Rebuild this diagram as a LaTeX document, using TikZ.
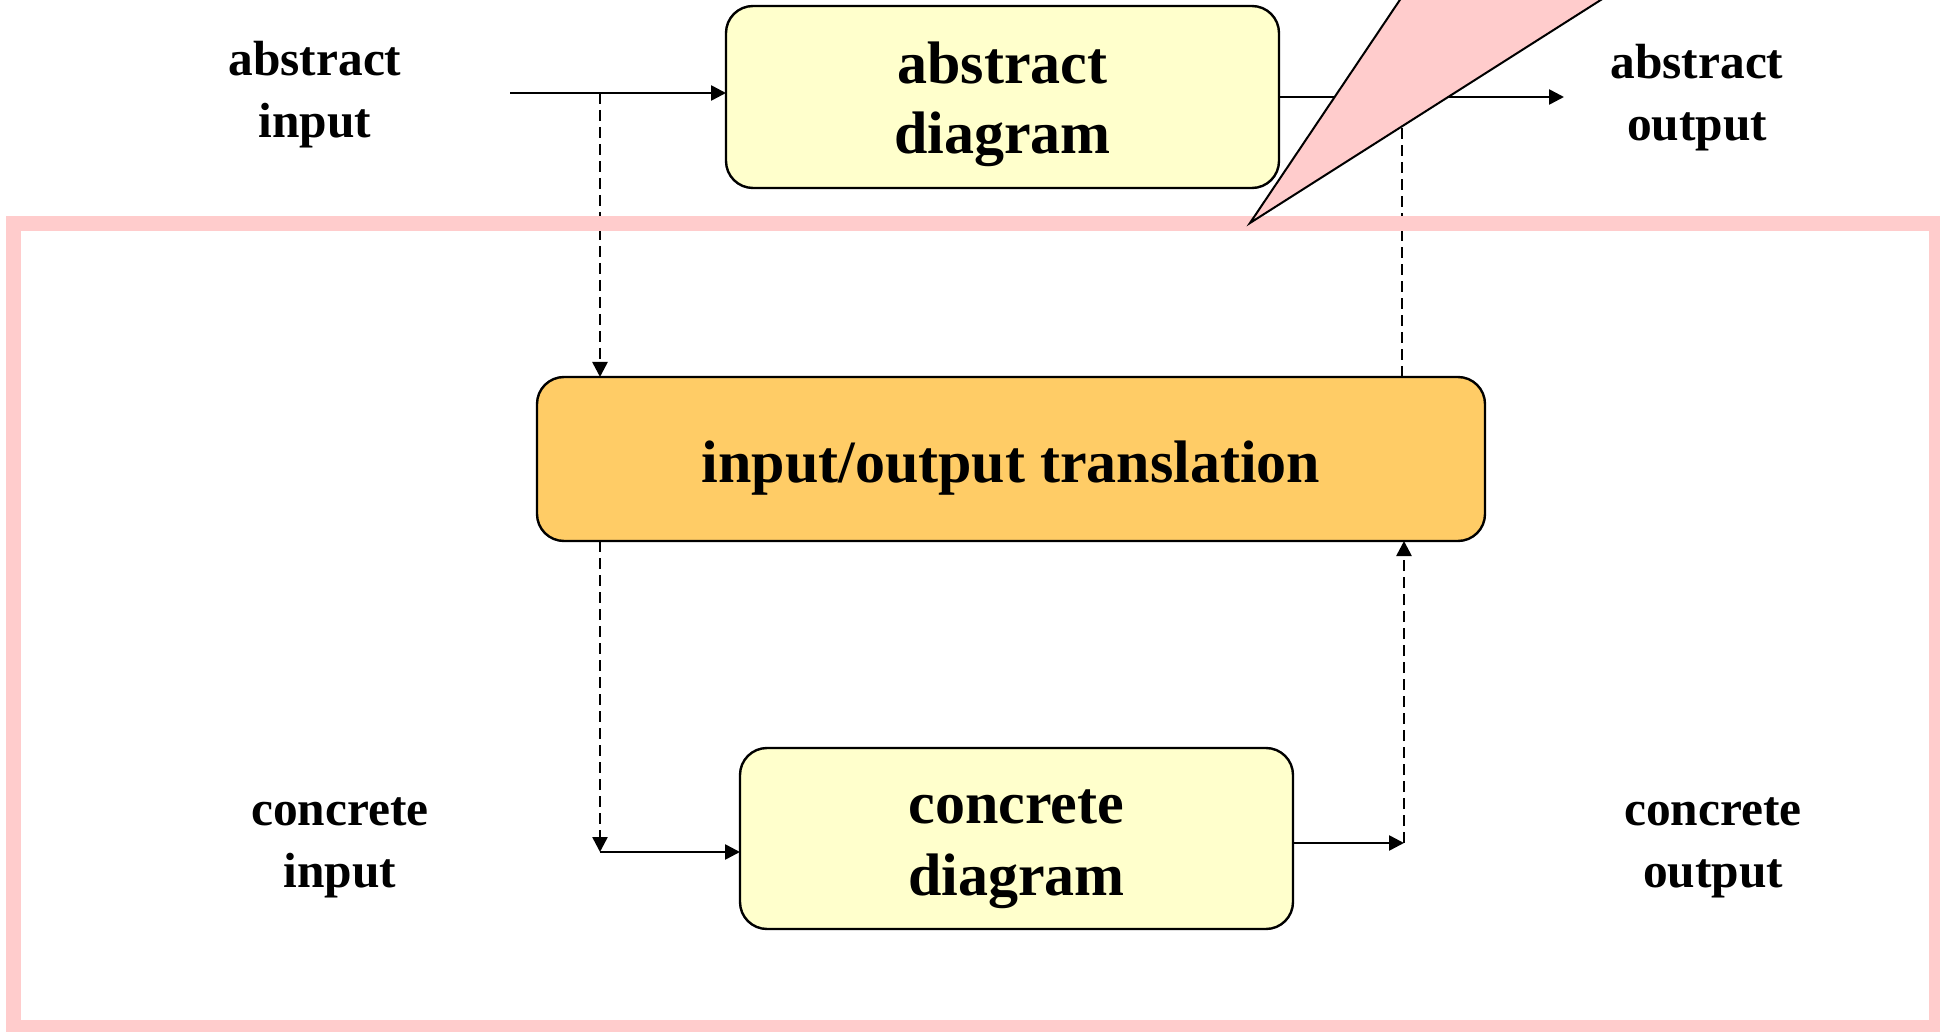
\documentclass[tikz,border=0pt]{standalone}
\usepackage{fontspec}
\setmainfont{Liberation Serif}
\usetikzlibrary{arrows.meta}
\definecolor{framepink}{HTML}{FFCCCC}
\definecolor{boxyellow}{HTML}{FFFFCC}
\definecolor{boxorange}{HTML}{FFCC66}
\tikzset{
  block/.style={draw=black, line width=1.2pt, rounded corners=13.5pt,
    inner sep=0pt, outer sep=0pt},
  blocktext/.style={align=center, inner sep=0pt,
    font=\bfseries\fontsize{30}{35}\selectfont},
  sidelabel/.style={align=center, inner sep=0pt,
    font=\bfseries\fontsize{24.7}{31}\selectfont},
  flow/.style={line width=1.3pt, -{Triangle[length=7.5pt,width=7.5pt]}},
  tap/.style={line width=1.3pt, dash pattern=on 5.5pt off 3pt},
  tapflow/.style={tap, -{Triangle[length=7.5pt,width=7.5pt]}}
}
\begin{document}
\begin{tikzpicture}[x=0.5pt, y=-0.5pt]
  \useasboundingbox (0,0) rectangle (1940,1032);
  \begin{scope}
    \clip (0,0) rectangle (1940,1032);

    % boxes
    \node[block, fill=boxyellow, minimum width=276.5pt, minimum height=91pt]
      (abs) at (1002.5,97) {};
    \node[block, fill=boxorange, minimum width=474pt, minimum height=82pt]
      (io) at (1011,459) {};
    \node[block, fill=boxyellow, minimum width=276.5pt, minimum height=90.5pt]
      (con) at (1016.5,838.5) {};

    % box texts
    \node[blocktext] (abstext) at ([yshift=-3.5pt]abs.center) {abstract\\diagram};
    \node[blocktext] (iotext) at ([yshift=-4.3pt]io.center) {input/output translation};
    \node[blocktext, font=\bfseries\fontsize{30}{36}\selectfont]
      (context) at ([yshift=-5.5pt]con.center) {concrete\\diagram};

    % labels
    \node[sidelabel] (ain)  at (315,95)  {abstract\\input};
    \node[sidelabel] (aout) at (1697,98) {abstract\\output};
    \node[sidelabel] (cin)  at (340,848) {concrete\\input};
    \node[sidelabel] (cout) at (1713,848) {concrete\\output};

    % connector end points
    \coordinate (ainstart) at (510,93);
    \coordinate (aintap)   at (600,93);
    \coordinate (aoutend)  at (1564,97);
    \coordinate (aouttap)  at (1402,97);
    \coordinate (cinjoin)  at (600,852);
    \coordinate (coutend)  at (1404,843);

    % abstract level
    \draw[flow] (ainstart) -- (ainstart -| abs.west);
    \draw[flow] (abs.east |- aoutend) -- (aoutend);

    % translation taps
    \draw[tapflow] (aintap) -- (aintap |- io.north);
    \draw[tap] (aouttap |- io.north) -- (aouttap);
    \draw[tapflow] (aintap |- io.south) -- (cinjoin);
    \draw[tapflow] (coutend) -- (coutend |- io.south);

    % concrete level
    \draw[flow] (cinjoin) -- (cinjoin -| con.west);
    \draw[flow] (con.east |- coutend) -- (coutend);

    % highlight frame and pointer
    \draw[framepink, line width=7.5pt] (13.5,223.5) rectangle (1936.5,1027.5);
    \coordinate (tip) at (1250,223);
    \draw[fill=framepink, line width=1pt, line join=miter]
      (tip) -- (1467,-100) -- (1758,-100) -- cycle;
  \end{scope}
\end{tikzpicture}
\end{document}
